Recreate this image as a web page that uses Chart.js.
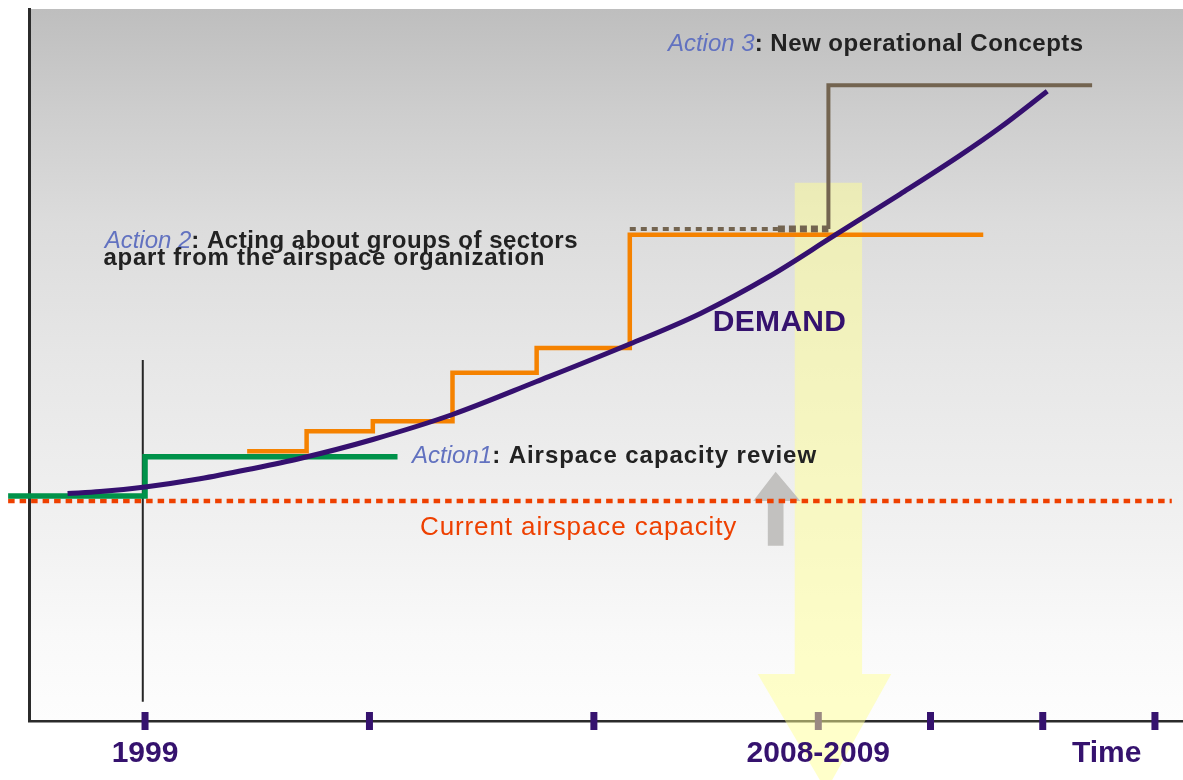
<!DOCTYPE html>
<html><head><meta charset="utf-8">
<script src="https://cdn.jsdelivr.net/npm/chart.js@4.4.1/dist/chart.umd.min.js"></script>
<style>html,body{margin:0;padding:0;background:#fff;}canvas{display:block;}</style>
</head><body>
<canvas id="c" width="1183" height="780"></canvas>
<script>
// ---------- data (x: time index, y: capacity / demand index) ----------
const xTickValues = [1, 3, 5, 7, 8, 9, 10];
const xLabelValues = [1, 7, 9.57];
const xLabels = ['1999', '2008-2009', 'Time'];

const demandX = [0.31, 0.60, 1.00, 1.49, 1.94, 2.38, 3.03, 3.74, 4.49, 5.32, 5.95, 6.57, 7.13, 7.73, 8.26, 8.62, 9.04];
const demandY = [31.95, 32.23, 32.87, 34.02, 35.39, 36.87, 39.54, 43.05, 47.68, 52.95, 57.25, 62.50, 68.05, 74.00, 79.40, 83.35, 88.45];

const action1X = [-0.22, 1.00, 1.00, 3.25];
const action1Y = [31.6, 31.6, 37.1, 37.1];

const action2X = [1.91, 2.44, 2.44, 3.03, 3.03, 3.74, 3.74, 4.49, 4.49, 5.32, 5.32, 8.47];
const action2Y = [37.9, 37.9, 40.7, 40.7, 42.1, 42.1, 48.9, 48.9, 52.4, 52.4, 68.3, 68.3];

const action3X = [5.32, 6.64, 7.09, 7.09, 9.44];
const action3Y = [69.1, 69.1, 69.1, 89.3, 89.3];

const capacityX = [-0.22, 10.15];
const capacityY = [30.9, 30.9];

const marker1999X = [0.98, 0.98];
const marker1999Y = [2.7, 50.7];

const bigArrowX = [6.79, 7.39, 7.39, 7.65, 7.07, 6.46, 6.79];
const bigArrowY = [75.6, 75.6, 6.6, 6.6, -9.8, 6.6, 6.6];

const upArrowX = [6.62, 6.84, 6.69, 6.69, 6.55, 6.55, 6.42];
const upArrowY = [35.0, 30.9, 30.9, 24.6, 24.6, 30.9, 30.9];

const notes = [
  {x: 5.66, y: 94.1, parts: [['Action 3', 'i'], [': New operational Concepts', 'b']]},
  {x: 0.64, y: 66.4, parts: [['Action 2', 'i'], [': Acting about groups of sectors', 'b']]},
  {x: 0.63, y: 64.0, parts: [['apart from the airspace organization', 'b3']]},
  {x: 3.38, y: 36.2, parts: [['Action1', 'i'], [': Airspace capacity review', 'b2']]},
  {x: 6.06, y: 54.8, parts: [['DEMAND', 'd']]},
  {x: 3.45, y: 26.1, parts: [['Current airspace capacity', 'c']]}
];

// ---------- helpers ----------
const FAMILY = '"Liberation Sans", Arial, sans-serif';
const pts = (xs, ys) => xs.map((x, i) => ({x: x, y: ys[i]}));
const textStyles = {
  i: {font: 'italic 24px ' + FAMILY, color: '#6272c0', ls: '0px'},
  b: {font: 'bold 24px ' + FAMILY, color: '#222222', ls: '0.5px'},
  b2: {font: 'bold 24px ' + FAMILY, color: '#222222', ls: '0.95px'},
  b3: {font: 'bold 24px ' + FAMILY, color: '#222222', ls: '0.75px'},
  d: {font: 'bold 30px ' + FAMILY, color: '#35126e', ls: '0.3px'},
  c: {font: '26px ' + FAMILY, color: '#ee4000', ls: '0.9px'}
};

function poly(chart, xs, ys, color) {
  const {ctx, scales: {x, y}} = chart;
  ctx.save();
  ctx.fillStyle = color;
  ctx.beginPath();
  xs.forEach((v, i) => {
    const px = x.getPixelForValue(v), py = y.getPixelForValue(ys[i]);
    if (i === 0) ctx.moveTo(px, py); else ctx.lineTo(px, py);
  });
  ctx.closePath();
  ctx.fill();
  ctx.restore();
}

const bgPlugin = {
  id: 'bgGrad',
  beforeDraw(chart) {
    const {ctx, chartArea: a} = chart;
    const g = ctx.createLinearGradient(0, a.top, 0, a.bottom);
    g.addColorStop(0, '#bebebe');
    g.addColorStop(0.15, '#cecece');
    g.addColorStop(0.3, '#dcdcdc');
    g.addColorStop(0.5, '#e7e7e7');
    g.addColorStop(0.75, '#f2f2f2');
    g.addColorStop(0.88, '#f9f9f9');
    g.addColorStop(1, '#fdfdfd');
    ctx.save();
    ctx.fillStyle = g;
    ctx.fillRect(a.left, a.top, a.right - a.left, a.bottom - a.top);
    ctx.restore();
  }
};

const arrowPlugin = {
  id: 'arrows',
  afterDatasetDraw(chart, args) {
    if (chart.data.datasets[args.index].label !== 'ticks') return;
    poly(chart, bigArrowX, bigArrowY, 'rgba(255,255,150,0.5)');
    poly(chart, upArrowX, upArrowY, '#c2c1bf');
  }
};

const notesPlugin = {
  id: 'notes',
  afterDatasetsDraw(chart) {
    const {ctx, scales: {x, y}} = chart;
    ctx.save();
    ctx.textBaseline = 'alphabetic';
    ctx.textAlign = 'left';
    notes.forEach(n => {
      let px = x.getPixelForValue(n.x);
      const py = y.getPixelForValue(n.y);
      n.parts.forEach(([txt, st]) => {
        const s = textStyles[st];
        ctx.font = s.font;
        ctx.fillStyle = s.color;
        ctx.letterSpacing = s.ls;
        ctx.fillText(txt, px, py);
        px += ctx.measureText(txt).width;
      });
    });
    ctx.restore();
  }
};

Chart.defaults.font.family = FAMILY;

new Chart(document.getElementById('c'), {
  type: 'line',
  data: {
    datasets: [
      {label: 'ticks', data: pts(xTickValues, xTickValues.map(() => 0)), showLine: false,
       pointStyle: 'line', pointRotation: 90, pointRadius: 9, pointBorderWidth: 7,
       pointBorderColor: '#35126e', pointBackgroundColor: '#35126e', order: 10, clip: false},
      {label: 'marker1999', data: pts(marker1999X, marker1999Y), borderColor: '#262626', borderWidth: 2,
       pointRadius: 0, clip: false, order: 5},
      {label: 'capacity', data: pts(capacityX, capacityY), borderColor: '#ee4000', borderWidth: 4.5,
       borderDash: [6.5, 5], borderCapStyle: 'butt', pointRadius: 0, clip: false, order: 4},
      {label: 'action1', data: pts(action1X, action1Y), borderColor: '#00924a', borderWidth: 5.5,
       borderJoinStyle: 'miter', pointRadius: 0, clip: false, order: 3},
      {label: 'action2', data: pts(action2X, action2Y), borderColor: '#f58200', borderWidth: 4.5,
       borderJoinStyle: 'miter', pointRadius: 0, clip: false, order: 2},
      {label: 'action3', data: pts(action3X, action3Y), borderColor: '#736450', borderWidth: 4,
       borderJoinStyle: 'miter', pointRadius: 0, clip: false, order: 2,
       segment: {
         borderDash: c => c.p0DataIndex === 0 ? [6, 5] : (c.p0DataIndex === 1 ? [7, 4] : []),
         borderWidth: c => c.p0DataIndex === 1 ? 7 : 4
       }},
      {label: 'demand', data: pts(demandX, demandY), borderColor: '#35106f', borderWidth: 5,
       cubicInterpolationMode: 'monotone', pointRadius: 0, clip: false, order: 1}
    ]
  },
  options: {
    responsive: false,
    animation: false,
    events: [],
    layout: {autoPadding: false, padding: {top: 9, left: 0, right: 0, bottom: 0}},
    plugins: {legend: {display: false}, tooltip: {enabled: false}},
    scales: {
      x: {
        type: 'linear', min: -0.034, max: 10.25,
        grid: {display: false},
        border: {display: true, color: '#2b2b2b', width: 2.5},
        afterBuildTicks: s => { s.ticks = xLabelValues.map(v => ({value: v})); },
        afterFit: s => { s.height = 59; },
        ticks: {
          autoSkip: false, maxRotation: 0, padding: 7, z: 1,
          color: '#35126e', font: {size: 30, weight: 'bold'},
          callback: (v, i) => xLabels[i]
        }
      },
      y: {
        type: 'linear', min: 0, max: 100,
        grid: {display: false},
        border: {display: true, color: '#2b2b2b', width: 3},
        ticks: {display: false},
        afterFit: s => { s.width = 29; }
      }
    }
  },
  plugins: [bgPlugin, arrowPlugin, notesPlugin]
});
</script>
</body></html>
